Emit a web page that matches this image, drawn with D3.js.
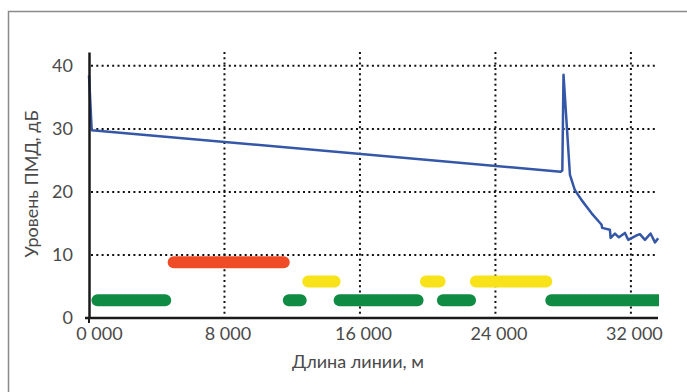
<!DOCTYPE html>
<html>
<head>
   <meta charset="utf-8">
   <title>Уровень ПМД по длине линии</title>
   <script src="https://d3js.org/d3.v7.min.js"></script>
   <style>
      body { margin: 0; background: #fff; }
      text { font-family: Lato, "Open Sans", sans-serif; fill: #4a4a4a; }
   </style>
</head>
<body>
   <script>
      // data
      var xTicks = [0, 8000, 16000, 24000, 32000]
      var xTickLabels = ["0 000", "8 000", "16 000", "24 000", "32 000"]
      var yTicks = [0, 10, 20, 30, 40]

      var traceDist = [0, 160, 27850, 27950, 28020, 28400, 28690, 29090, 29680, 30270, 30300, 30760, 30800,
         31060, 31290, 31650, 31840, 32340, 32530, 32830, 33160, 33420, 33610]
      var traceLevel = [38.5, 29.8, 23.2, 23.4, 38.6, 22.7, 20.3, 18.7, 16.6, 14.8, 14.3, 14.0, 12.7,
         13.4, 12.8, 13.5, 12.4, 13.1, 13.3, 12.4, 13.4, 12.0, 12.65]

      var greenSegments = [[500, 4500], [11800, 12500], [14800, 19400], [20900, 22500], [27300, 34500]]
      var yellowSegments = [[12950, 14500], [19900, 20700], [22850, 27000]]
      var redSegments = [[5000, 11500]]
      var bandLevel = { green: 2.8, yellow: 5.8, red: 8.85 }

      var W = 687, H = 392
      var svg = d3.select("body").append("svg").attr("width", W).attr("height", H)

      // frame
      svg.append("rect").attr("x", 8.5).attr("y", 11.5).attr("width", 720).attr("height", 420)
         .attr("fill", "none").attr("stroke", "#8a8a8a").attr("stroke-width", 1.5)

      var x = d3.scaleLinear().domain([0, 33600]).range([89, 658])
      var y = d3.scaleLinear().domain([0, 42.2]).range([318, 52])

      // grid
      svg.selectAll("line.hgrid").data(yTicks.slice(1)).enter().append("line")
         .attr("x1", x(0) + 2).attr("x2", x.range()[1])
         .attr("y1", d => y(d)).attr("y2", d => y(d))
         .attr("stroke", "#111").attr("stroke-width", 2).attr("stroke-dasharray", "2,3.3")
      svg.selectAll("line.vgrid").data(xTicks.slice(1)).enter().append("line")
         .attr("x1", d => x(d)).attr("x2", d => x(d))
         .attr("y1", y.range()[1]).attr("y2", y(0) + 3)
         .attr("stroke", "#111").attr("stroke-width", 2).attr("stroke-dasharray", "2,3.3")

      // bands
      var clip = svg.append("clipPath").attr("id", "plotclip")
      clip.append("rect").attr("x", 0).attr("y", 0).attr("width", x.range()[1] + 1).attr("height", H)
      var bands = svg.append("g").attr("clip-path", "url(#plotclip)")
      function drawBand(segs, level, color) {
         bands.selectAll(null).data(segs).enter().append("line")
            .attr("x1", d => x(d[0])).attr("x2", d => x(d[1]))
            .attr("y1", y(level)).attr("y2", y(level))
            .attr("stroke", color).attr("stroke-width", 12).attr("stroke-linecap", "round")
      }
      drawBand(redSegments, bandLevel.red, "#ee4b26")
      drawBand(yellowSegments, bandLevel.yellow, "#f8e219")
      drawBand(greenSegments, bandLevel.green, "#108b44")

      // trace
      var line = d3.line().x(d => x(d[0])).y(d => y(d[1]))
      svg.append("path").datum(d3.zip(traceDist, traceLevel))
         .attr("d", line).attr("fill", "none")
         .attr("stroke", "#3557a8").attr("stroke-width", 2.5).attr("stroke-linejoin", "round")

      // axes
      var axisY = d3.axisLeft(y).tickValues(yTicks).tickSize(0).tickPadding(16)
      var gy = svg.append("g").attr("transform", `translate(${x(0)},0)`).call(axisY)
      gy.select(".domain").attr("stroke", "#1a1a1a").attr("stroke-width", 2.5)
      gy.selectAll("text").attr("font-size", 18).attr("fill", "#4a4a4a").attr("font-family", null)

      var axisX = d3.axisBottom(x).tickValues(xTicks).tickSize(0).tickPadding(9)
         .tickFormat((d, i) => xTickLabels[i])
      var gx = svg.append("g").attr("transform", `translate(0,${y(0)})`).call(axisX)
      gx.select(".domain").attr("stroke", "#1a1a1a").attr("stroke-width", 2.5)
         .attr("d", `M${x(0) - 4},0H${x.range()[1]}`)
      gx.selectAll("text").attr("font-size", 18).attr("fill", "#4a4a4a").attr("font-family", null)
         .attr("dx", (d, i) => i === 0 ? 10 : 3)
      // small tick under the origin
      svg.append("line").attr("x1", x(0)).attr("x2", x(0)).attr("y1", y(0)).attr("y2", y(0) + 5)
         .attr("stroke", "#1a1a1a").attr("stroke-width", 2)

      // titles
      svg.append("text").attr("x", 358).attr("y", 368).attr("text-anchor", "middle")
         .attr("font-size", 18).text("Длина линии, м")
      svg.append("text").attr("transform", "translate(38,184) rotate(-90)").attr("text-anchor", "middle")
         .attr("font-size", 18).text("Уровень ПМД, дБ")
   </script>
</body>
</html>
